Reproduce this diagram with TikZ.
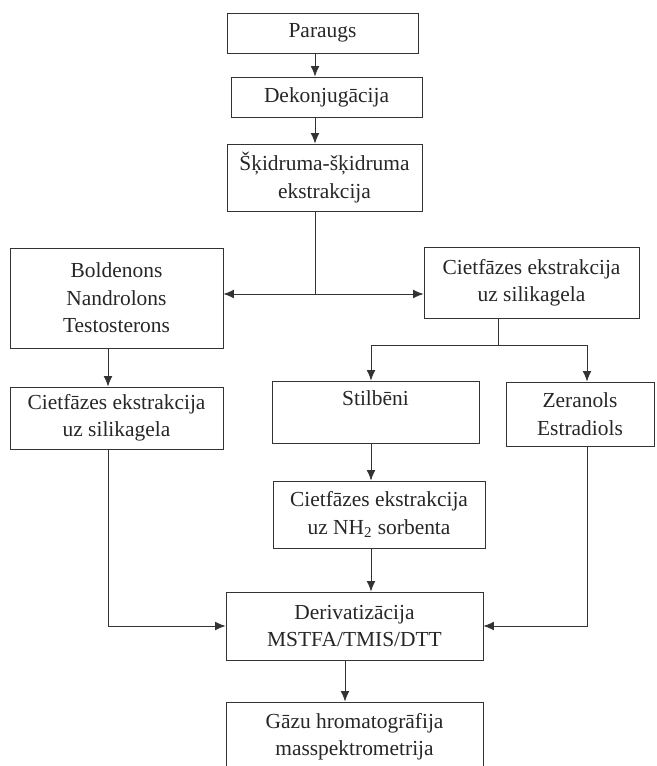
\documentclass[tikz,border=0pt]{standalone}
\usepackage{fontspec}
\setmainfont{Liberation Serif}
\usetikzlibrary{arrows.meta}

\begin{document}
\begin{tikzpicture}[>={Latex[length=6pt,width=5pt]}, x=0.02cm, y=-0.02cm, line width=0.5pt, draw=black!80,
  blok/.style={draw=black!80, align=center, inner sep=0pt, text=black!85,
    font=\fontsize{12.2}{15.6}\selectfont}]

\clip (0,0) rectangle (656,766);

\node[blok, minimum width=3.82cm, minimum height=0.8cm] (paraugs) at (322.5,33) {Paraugs};
\node[blok, minimum width=3.82cm, minimum height=0.8cm] (dekonj) at (326.5,97) {Dekonjugācija};
\node[blok, minimum width=3.9cm, minimum height=1.34cm] (skidr) at (324.5,177.5) {Šķidruma-šķidruma\\ekstrakcija};

\node[blok, minimum width=4.26cm, minimum height=2cm] (bold) at (116.5,298) {Boldenons\\Nandrolons\\Testosterons};
\node[blok, minimum width=4.3cm, minimum height=1.42cm] (cietA) at (531.5,282.5) {Cietfāzes ekstrakcija\\uz silikagela};

\node[blok, minimum width=4.26cm, minimum height=1.24cm] (cietB) at (116.5,418) {Cietfāzes ekstrakcija\\uz silikagela};
\node[blok, minimum width=4.14cm, minimum height=1.24cm] (stilb) at (375.5,412) {Stilbēni\\\mbox{}};
\node[blok, minimum width=2.96cm, minimum height=1.28cm] (zeran) at (580,414) {Zeranols\\Estradiols};

\node[blok, minimum width=4.24cm, minimum height=1.34cm] (nh2) at (379,514.5) {Cietfāzes ekstrakcija\\uz NH\textsubscript{2} sorbenta};
\node[blok, minimum width=5.14cm, minimum height=1.36cm] (deriv) at (354.5,626) {Derivatizācija\\MSTFA/TMIS/DTT};
\node[blok, minimum width=5.14cm, minimum height=1.38cm] (gazu) at (354.5,736.5) {Gāzu hromatogrāfija\\masspektrometrija};

% galvenā ass
\coordinate (os) at (315,294);
\draw[->] (paraugs.south -| os) -- (dekonj.north -| os);
\draw[->] (dekonj.south -| os) -- (skidr.north -| os);
\draw (skidr.south -| os) -- (os);
\draw[->] (os) -- (os -| bold.east);
\draw[->] (os) -- (os -| cietA.west);

% kreisā kolonna
\coordinate (kr) at (108,0);
\draw[->] (bold.south -| kr) -- (cietB.north -| kr);
\draw[->] (cietB.south -| kr) |- (deriv.west);

% zarojums
\coordinate (dal) at (498,345);
\coordinate (st) at (371,0);
\coordinate (ze) at (587,0);
\draw[->] (cietA.south -| dal) -- (dal) -| (stilb.north -| st);
\draw[->] (dal) -| (zeran.north -| ze);
\draw[->] (stilb.south -| st) -- (nh2.north -| st);
\draw[->] (nh2.south -| st) -- (deriv.north -| st);
\draw[->] (zeran.south -| ze) |- (deriv.east);

\coordinate (gz) at (345,0);
\draw[->] (deriv.south -| gz) -- (gazu.north -| gz);

\end{tikzpicture}
\end{document}
